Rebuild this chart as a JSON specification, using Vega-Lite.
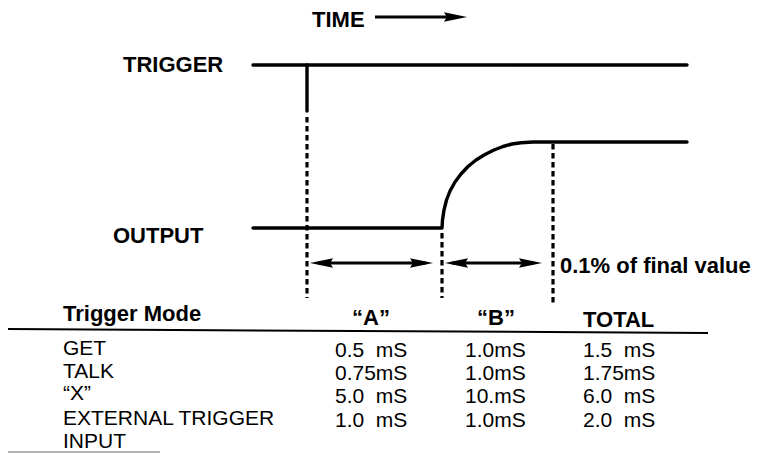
{
  "$schema": "https://vega.github.io/schema/vega-lite/v6.json",
  "width": 760,
  "height": 454,
  "autosize": {"type": "fit", "contains": "padding"},
  "padding": 0,
  "background": "white",
  "config": {"view": {"stroke": null}},
  "datasets": {
    "paths": [
      {"seg": "trigger", "ord": 1, "t": 253, "level": 65},
      {"seg": "trigger", "ord": 2, "t": 687, "level": 65},
      {"seg": "triggerEdge", "ord": 1, "t": 307, "level": 65},
      {"seg": "triggerEdge", "ord": 2, "t": 307, "level": 111},
      {"seg": "output", "ord": 1, "t": 253, "level": 228},
      {"seg": "output", "ord": 2, "t": 442, "level": 228},
      {"seg": "output", "ord": 3, "t": 442.5, "level": 220},
      {"seg": "output", "ord": 4, "t": 444, "level": 210},
      {"seg": "output", "ord": 5, "t": 446.5, "level": 200},
      {"seg": "output", "ord": 6, "t": 450, "level": 191},
      {"seg": "output", "ord": 7, "t": 455, "level": 182},
      {"seg": "output", "ord": 8, "t": 461, "level": 174},
      {"seg": "output", "ord": 9, "t": 468, "level": 166.5},
      {"seg": "output", "ord": 10, "t": 476, "level": 160},
      {"seg": "output", "ord": 11, "t": 485, "level": 154.5},
      {"seg": "output", "ord": 12, "t": 494, "level": 150},
      {"seg": "output", "ord": 13, "t": 503, "level": 146.5},
      {"seg": "output", "ord": 14, "t": 512, "level": 144},
      {"seg": "output", "ord": 15, "t": 521, "level": 142.7},
      {"seg": "output", "ord": 16, "t": 533, "level": 142},
      {"seg": "output", "ord": 17, "t": 687, "level": 142}
    ],
    "dots": [
      {"t": 307, "level": 117, "level2": 298},
      {"t": 442, "level": 233, "level2": 298},
      {"t": 553, "level": 144, "level2": 305}
    ],
    "shafts": [
      {"t": 318, "t2": 426, "level": 263},
      {"t": 452, "t2": 534, "level": 263},
      {"t": 375, "t2": 450, "level": 17}
    ],
    "heads": [
      {"t": 321.5, "level": 263, "dir": "left"},
      {"t": 421.5, "level": 263, "dir": "right"},
      {"t": 456.5, "level": 263, "dir": "left"},
      {"t": 530.5, "level": 263, "dir": "right"},
      {"t": 455.5, "level": 17, "dir": "right"}
    ],
    "labels": [
      {"text": "TIME", "t": 312, "level": 27},
      {"text": "TRIGGER", "t": 123, "level": 72},
      {"text": "OUTPUT", "t": 113, "level": 243},
      {"text": "0.1% of final value", "t": 560, "level": 273},
      {"text": "Trigger Mode", "t": 63, "level": 321},
      {"text": "“A”", "t": 352, "level": 325},
      {"text": "“B”", "t": 477, "level": 325},
      {"text": "TOTAL", "t": 583, "level": 327}
    ],
    "cells": [
      {"text": "GET", "t": 63, "level": 355},
      {"text": "0.5\u00a0\u00a0mS", "t": 335, "level": 357},
      {"text": "1.0mS", "t": 465, "level": 357},
      {"text": "1.5\u00a0\u00a0mS", "t": 583, "level": 357},
      {"text": "TALK", "t": 63, "level": 378},
      {"text": "0.75mS", "t": 335, "level": 380},
      {"text": "1.0mS", "t": 465, "level": 380},
      {"text": "1.75mS", "t": 583, "level": 380},
      {"text": "“X”", "t": 63, "level": 400},
      {"text": "5.0\u00a0\u00a0mS", "t": 335, "level": 403},
      {"text": "10.mS", "t": 465, "level": 403},
      {"text": "6.0\u00a0\u00a0mS", "t": 583, "level": 403},
      {"text": "EXTERNAL TRIGGER", "t": 63, "level": 425},
      {"text": "1.0\u00a0\u00a0mS", "t": 335, "level": 427},
      {"text": "1.0mS", "t": 465, "level": 427},
      {"text": "2.0\u00a0\u00a0mS", "t": 583, "level": 427},
      {"text": "INPUT", "t": 63, "level": 448}
    ],
    "hlines": [
      {"t": 8, "t2": 708, "level": 329, "level2": 333}
    ],
    "faint": [
      {"t": 8, "t2": 160, "level": 452, "level2": 452}
    ]
  },
  "layer": [
    {
      "data": {"name": "paths"},
      "mark": {"type": "line", "color": "black", "strokeWidth": 3.4, "strokeCap": "round", "strokeJoin": "round"},
      "encoding": {
        "x": {"field": "t", "type": "quantitative", "scale": {"domain": [0, 760], "nice": false, "zero": false}, "axis": null},
        "y": {"field": "level", "type": "quantitative", "scale": {"domain": [0, 454], "nice": false, "zero": false, "reverse": true}, "axis": null},
        "detail": {"field": "seg"},
        "order": {"field": "ord", "type": "quantitative"}
      }
    },
    {
      "data": {"name": "dots"},
      "mark": {"type": "rule", "color": "black", "strokeWidth": 3.2, "strokeDash": [5.5, 3.5]},
      "encoding": {
        "x": {"field": "t", "type": "quantitative", "scale": {"domain": [0, 760], "nice": false, "zero": false}, "axis": null},
        "y": {"field": "level", "type": "quantitative", "scale": {"domain": [0, 454], "nice": false, "zero": false, "reverse": true}, "axis": null},
        "y2": {"field": "level2"}
      }
    },
    {
      "data": {"name": "shafts"},
      "mark": {"type": "rule", "color": "black", "strokeWidth": 3},
      "encoding": {
        "x": {"field": "t", "type": "quantitative", "scale": {"domain": [0, 760], "nice": false, "zero": false}, "axis": null},
        "x2": {"field": "t2"},
        "y": {"field": "level", "type": "quantitative", "scale": {"domain": [0, 454], "nice": false, "zero": false, "reverse": true}, "axis": null}
      }
    },
    {
      "data": {"name": "heads"},
      "mark": {"type": "point", "filled": true, "color": "black", "opacity": 1, "size": 530, "strokeWidth": 0},
      "encoding": {
        "x": {"field": "t", "type": "quantitative", "scale": {"domain": [0, 760], "nice": false, "zero": false}, "axis": null},
        "y": {"field": "level", "type": "quantitative", "scale": {"domain": [0, 454], "nice": false, "zero": false, "reverse": true}, "axis": null},
        "shape": {"field": "dir", "type": "nominal", "legend": null, "scale": {"domain": ["left", "right"], "range": ["M-1,0L1,-0.42L0.75,0L1,0.42Z", "M1,0L-1,-0.42L-0.75,0L-1,0.42Z"]}}
      }
    },
    {
      "data": {"name": "hlines"},
      "mark": {"type": "rule", "color": "black", "strokeWidth": 2},
      "encoding": {
        "x": {"field": "t", "type": "quantitative", "scale": {"domain": [0, 760], "nice": false, "zero": false}, "axis": null},
        "x2": {"field": "t2"},
        "y": {"field": "level", "type": "quantitative", "scale": {"domain": [0, 454], "nice": false, "zero": false, "reverse": true}, "axis": null},
        "y2": {"field": "level2"}
      }
    },
    {
      "data": {"name": "faint"},
      "mark": {"type": "rule", "color": "#9a9a9a", "strokeWidth": 1.5},
      "encoding": {
        "x": {"field": "t", "type": "quantitative", "scale": {"domain": [0, 760], "nice": false, "zero": false}, "axis": null},
        "x2": {"field": "t2"},
        "y": {"field": "level", "type": "quantitative", "scale": {"domain": [0, 454], "nice": false, "zero": false, "reverse": true}, "axis": null},
        "y2": {"field": "level2"}
      }
    },
    {
      "data": {"name": "labels"},
      "mark": {"type": "text", "align": "left", "baseline": "alphabetic", "font": "Liberation Sans", "fontSize": 22, "fontWeight": "bold", "color": "black"},
      "encoding": {
        "x": {"field": "t", "type": "quantitative", "scale": {"domain": [0, 760], "nice": false, "zero": false}, "axis": null},
        "y": {"field": "level", "type": "quantitative", "scale": {"domain": [0, 454], "nice": false, "zero": false, "reverse": true}, "axis": null},
        "text": {"field": "text"}
      }
    },
    {
      "data": {"name": "cells"},
      "mark": {"type": "text", "align": "left", "baseline": "alphabetic", "font": "Liberation Sans", "fontSize": 21, "color": "black"},
      "encoding": {
        "x": {"field": "t", "type": "quantitative", "scale": {"domain": [0, 760], "nice": false, "zero": false}, "axis": null},
        "y": {"field": "level", "type": "quantitative", "scale": {"domain": [0, 454], "nice": false, "zero": false, "reverse": true}, "axis": null},
        "text": {"field": "text"}
      }
    }
  ]
}
